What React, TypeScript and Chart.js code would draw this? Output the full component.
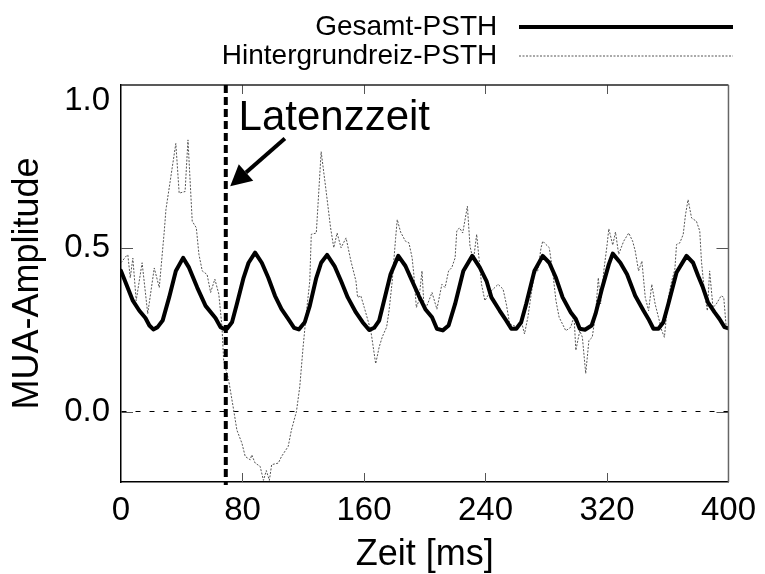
import React, { useEffect, useRef } from 'react';
import { Chart, registerables } from 'chart.js';

Chart.register(...registerables);

const FONT = '"Liberation Sans", Arial, Helvetica, sans-serif';

// Gesamt-PSTH (thick line): time [ms] / MUA amplitude
const GESAMT_TIME = [
  0, 3.5, 7.8, 12.1, 16.1, 18.7, 21.3, 24.1, 27.4, 31.7,
  36.1, 40.9, 44.8, 50.2, 55.7, 62.2, 65.5, 67.6, 69.8, 73.1,
  76.3, 80.7, 84, 88.3, 92.7, 97, 101.4, 105.7, 110.1, 114,
  117.1, 121, 124.3, 128.6, 131.8, 135.7, 140.6, 144.9, 149.3, 154.7,
  159.1, 163.4, 166.7, 170, 173.2, 177.5, 182.6, 187.3, 191.7, 196.1,
  200.4, 204.8, 208, 211.9, 215.7, 220, 225.4, 231.3, 236.3, 240.7,
  243.9, 249.4, 253.7, 257, 260.3, 263.5, 266.8, 272.2, 277.7, 282,
  286.4, 290.8, 296.2, 299.5, 302.1, 305.5, 309.9, 312.5, 316.9, 321.2,
  323.8, 328.8, 333.2, 338.6, 344.1, 347.3, 350.6, 353.9, 357.1, 360.4,
  365.8, 372.4, 376.7, 380, 383.2, 386.5, 390.9, 394.1, 397.4, 400,
];
const GESAMT_AMP = [
  0.431, 0.39, 0.34, 0.309, 0.287, 0.264, 0.252, 0.259, 0.279, 0.35,
  0.431, 0.471, 0.441, 0.38, 0.324, 0.287, 0.259, 0.254, 0.254, 0.274,
  0.33, 0.41, 0.456, 0.487, 0.456, 0.41, 0.355, 0.314, 0.284, 0.257,
  0.252, 0.274, 0.324, 0.41, 0.456, 0.48, 0.446, 0.4, 0.35, 0.304,
  0.274, 0.25, 0.257, 0.279, 0.34, 0.421, 0.477, 0.446, 0.4, 0.355,
  0.314, 0.289, 0.254, 0.249, 0.264, 0.33, 0.431, 0.477, 0.441, 0.4,
  0.35, 0.309, 0.279, 0.254, 0.254, 0.274, 0.33, 0.431, 0.477, 0.456,
  0.41, 0.35, 0.304, 0.284, 0.254, 0.251, 0.264, 0.3, 0.38, 0.451,
  0.484, 0.456, 0.421, 0.355, 0.309, 0.284, 0.254, 0.254, 0.274, 0.33,
  0.426, 0.477, 0.456, 0.416, 0.38, 0.335, 0.304, 0.284, 0.259, 0.255,
];

// Hintergrundreiz-PSTH (thin dotted line)
const HG_TIME = [
  0, 3.5, 4.5, 6.1, 7.8, 10, 13.9, 17.6, 21.9, 25.2,
  28.5, 29.6, 36.1, 38.3, 42.2, 44.1, 46.9, 49.6, 51.3, 53.5,
  56.7, 59, 61.8, 64.4, 66.5, 67.6, 70.9, 74.2, 76.3, 79.6,
  81.8, 85.1, 86.1, 88.3, 91.6, 93.8, 95.7, 97.7, 99.2, 103.6,
  105.7, 110.1, 112.2, 115.5, 117.7, 119.9, 122, 124.3, 125.3, 128.6,
  131.8, 135.1, 138, 140.1, 142.3, 144.9, 148.2, 151.4, 154.7, 155.8,
  157.9, 160.2, 164.5, 167.7, 170, 172.1, 174.9, 176.5, 178.6, 180.8,
  181.9, 184.1, 187.3, 189.6, 191.7, 192.8, 194.5, 196.1, 198.2, 199.4,
  201.5, 204.8, 208, 211.3, 213.4, 215.7, 217.8, 220, 221.1, 222.9,
  225, 228.1, 229.8, 232, 234.2, 237.4, 239.6, 242.8, 245, 248.3,
  251.6, 253.7, 255.9, 258.1, 261.4, 263.5, 265.7, 267.9, 270.1, 272.2,
  274.4, 276.6, 277.7, 279.8, 282, 284.2, 286.4, 288.5, 292.9, 296.2,
  298.3, 299.5, 302.1, 303.8, 306, 308.1, 310.3, 312.5, 314.3, 315.8,
  317.9, 320.1, 321.2, 323.8, 325.6, 327.7, 331, 334.3, 336.9, 338.6,
  340.8, 343, 345.2, 347.4, 349.5, 351.7, 353.9, 356.1, 357.8, 360.4,
  362.6, 364.7, 365.8, 368, 370.2, 371.7, 373.4, 375.7, 378.9, 381.1,
  382.2, 384.3, 386.1, 387.6, 389.8, 392, 395.2, 396.9, 398.5, 400,
];
const HG_AMP = [
  0.456, 0.477, 0.48, 0.41, 0.47, 0.34, 0.456, 0.3, 0.44, 0.38,
  0.553, 0.619, 0.821, 0.669, 0.674, 0.832, 0.583, 0.563, 0.482, 0.431,
  0.42, 0.365, 0.406, 0.36, 0.259, 0.157, 0.096, 0.005, -0.056, -0.096,
  -0.137, -0.147, -0.132, -0.157, -0.167, -0.21, -0.18, -0.21, -0.162, -0.157,
  -0.137, -0.106, -0.056, 0.0, 0.076, 0.198, 0.3, 0.4, 0.543, 0.547,
  0.796, 0.674, 0.563, 0.502, 0.547, 0.502, 0.532, 0.461, 0.4, 0.35,
  0.355, 0.319, 0.248, 0.147, 0.198, 0.23, 0.259, 0.309, 0.4, 0.53,
  0.588, 0.55, 0.522, 0.517, 0.471, 0.421, 0.319, 0.34, 0.431, 0.33,
  0.325, 0.365, 0.314, 0.39, 0.38, 0.431, 0.441, 0.471, 0.553, 0.563,
  0.547, 0.629, 0.507, 0.461, 0.543, 0.39, 0.34, 0.365, 0.375, 0.39,
  0.375, 0.33, 0.269, 0.264, 0.259, 0.279, 0.238, 0.289, 0.36, 0.421,
  0.431, 0.502, 0.522, 0.512, 0.502, 0.431, 0.34, 0.289, 0.248, 0.259,
  0.294, 0.188, 0.248, 0.228, 0.117, 0.218, 0.228, 0.3, 0.41, 0.33,
  0.431, 0.512, 0.56, 0.51, 0.55, 0.482, 0.522, 0.547, 0.522, 0.492,
  0.431, 0.461, 0.35, 0.309, 0.39, 0.33, 0.289, 0.248, 0.228, 0.35,
  0.4, 0.436, 0.512, 0.517, 0.543, 0.603, 0.649, 0.593, 0.583, 0.553,
  0.461, 0.36, 0.309, 0.431, 0.319, 0.33, 0.355, 0.35, 0.259, 0.25,
];

const SERIES_LABELS = ['Gesamt-PSTH', 'Hintergrundreiz-PSTH'];
const X_TICKS = [0, 80, 160, 240, 320, 400];
const Y_TICKS = [0, 0.5, 1.0];
const X_RANGE = [0, 400];
const Y_RANGE = [-0.215, 1.0];

// Annotation (data coordinates)
const LATENCY_MS = 69;
const LATENCY_LABEL = 'Latenzzeit';
const LATENCY_LABEL_AT = [77.4, 0.862];
const ARROW_TAIL = [107.9, 0.836];
const ARROW_TIP = [71.9, 0.69];

const annotationPlugin = {
  id: 'frameAndLatency',
  afterDatasetsDraw(chart: any) {
    const { ctx, chartArea: a, scales } = chart;
    const xs = scales.x;
    const ys = scales.y;
    ctx.save();

    // inward tick marks on all four sides
    ctx.strokeStyle = '#555';
    ctx.lineWidth = 1;
    ctx.beginPath();
    X_TICKS.forEach((t) => {
      if (t === X_RANGE[0] || t === X_RANGE[1]) return;
      const px = Math.round(xs.getPixelForValue(t)) + 0.5;
      ctx.moveTo(px, a.bottom);
      ctx.lineTo(px, a.bottom - 9);
      ctx.moveTo(px, a.top);
      ctx.lineTo(px, a.top + 9);
    });
    Y_TICKS.forEach((t) => {
      if (t >= Y_RANGE[1]) return;
      const py = Math.round(ys.getPixelForValue(t)) + 0.5;
      ctx.moveTo(a.left, py);
      ctx.lineTo(a.left + 12, py);
      ctx.moveTo(a.right, py);
      ctx.lineTo(a.right - 12, py);
    });
    ctx.stroke();

    // top and right frame
    ctx.lineWidth = 1.5;
    ctx.strokeStyle = '#222';
    ctx.beginPath();
    ctx.moveTo(a.left, a.top);
    ctx.lineTo(a.right, a.top);
    ctx.stroke();
    ctx.strokeStyle = '#666';
    ctx.beginPath();
    ctx.moveTo(a.right, a.top);
    ctx.lineTo(a.right, a.bottom);
    ctx.stroke();

    // latency line
    const lx = xs.getPixelForValue(LATENCY_MS);
    ctx.strokeStyle = '#000';
    ctx.lineWidth = 4;
    ctx.setLineDash([8, 4]);
    ctx.beginPath();
    ctx.moveTo(lx, a.top);
    ctx.lineTo(lx, a.bottom + 3);
    ctx.stroke();
    ctx.setLineDash([]);

    // arrow
    const x0 = xs.getPixelForValue(ARROW_TAIL[0]);
    const y0 = ys.getPixelForValue(ARROW_TAIL[1]);
    const x1 = xs.getPixelForValue(ARROW_TIP[0]);
    const y1 = ys.getPixelForValue(ARROW_TIP[1]);
    const ang = Math.atan2(y1 - y0, x1 - x0);
    const headLen = 21;
    const headHalf = 11;
    const bx = x1 - headLen * Math.cos(ang);
    const by = y1 - headLen * Math.sin(ang);
    ctx.lineWidth = 4;
    ctx.beginPath();
    ctx.moveTo(x0, y0);
    ctx.lineTo(bx, by);
    ctx.stroke();
    ctx.fillStyle = '#000';
    ctx.beginPath();
    ctx.moveTo(x1, y1);
    ctx.lineTo(bx - headHalf * Math.sin(ang), by + headHalf * Math.cos(ang));
    ctx.lineTo(bx + headHalf * Math.sin(ang), by - headHalf * Math.cos(ang));
    ctx.closePath();
    ctx.fill();

    // label
    ctx.font = `42px ${FONT}`;
    ctx.textAlign = 'left';
    ctx.textBaseline = 'alphabetic';
    ctx.fillText(
      LATENCY_LABEL,
      xs.getPixelForValue(LATENCY_LABEL_AT[0]),
      ys.getPixelForValue(LATENCY_LABEL_AT[1])
    );
    ctx.restore();
  },
};

export default function App() {
  const canvasRef = useRef<HTMLCanvasElement>(null);

  useEffect(() => {
    document.body.style.margin = '0';
    const canvas = canvasRef.current;
    if (!canvas) return;

    const chart = new Chart(canvas, {
      type: 'line',
      data: {
        datasets: [
          {
            label: SERIES_LABELS[0],
            data: GESAMT_TIME.map((t, i) => ({ x: t, y: GESAMT_AMP[i] })),
            borderColor: '#000',
            borderWidth: 4,
            borderJoinStyle: 'round',
            borderCapStyle: 'round',
            pointRadius: 0,
            tension: 0,
            fill: false,
          },
          {
            label: SERIES_LABELS[1],
            data: HG_TIME.map((t, i) => ({ x: t, y: HG_AMP[i] })),
            borderColor: '#555',
            borderWidth: 1,
            borderDash: [2, 1.5],
            pointRadius: 0,
            tension: 0,
            fill: false,
          },
        ],
      },
      options: {
        responsive: false,
        animation: false,
        devicePixelRatio: 1,
        layout: { padding: { top: 12, right: 31, left: 0, bottom: 0 } },
        plugins: {
          tooltip: { enabled: false },
          title: { display: false },
          subtitle: {
            display: true,
            text: '',
            position: 'top',
            weight: 500,
            font: { size: 4.17 },
            padding: 0,
          },
          legend: {
            display: true,
            position: 'top',
            align: 'start',
            rtl: true,
            textDirection: 'ltr',
            labels: {
              font: { size: 28, family: FONT },
              color: '#000',
              padding: 1,
              usePointStyle: true,
              pointStyleWidth: 214,
              generateLabels: (ch: any) =>
                ch.data.datasets.map((ds: any, i: number) => ({
                  text: ds.label + ' ',
                  fillStyle: ds.borderColor,
                  strokeStyle: ds.borderColor,
                  lineWidth: ds.borderWidth,
                  lineDash: ds.borderDash || [],
                  pointStyle: 'line',
                  fontColor: '#000',
                  hidden: false,
                  datasetIndex: i,
                })),
            },
          },
        },
        scales: {
          x: {
            type: 'linear',
            min: X_RANGE[0],
            max: X_RANGE[1],
            afterBuildTicks: (s: any) => {
              s.ticks = X_TICKS.map((v) => ({ value: v }));
            },
            afterFit: (s: any) => {
              s.height = 92;
            },
            grid: { display: false, drawTicks: false },
            border: { display: true, color: '#000', width: 1.5 },
            ticks: {
              color: '#000',
              font: { size: 33, family: FONT },
              padding: 9,
              maxRotation: 0,
              autoSkip: false,
              callback: (v: any) => String(v),
            },
            title: {
              display: true,
              text: 'Zeit [ms]',
              color: '#000',
              font: { size: 36, family: FONT, lineHeight: 1 },
              padding: { top: 0, bottom: 1 },
            },
          },
          y: {
            type: 'linear',
            min: Y_RANGE[0],
            max: Y_RANGE[1],
            afterBuildTicks: (s: any) => {
              s.ticks = Y_TICKS.map((v) => ({ value: v }));
            },
            afterFit: (s: any) => {
              s.width = 121;
            },
            grid: {
              display: true,
              drawTicks: false,
              lineWidth: 1,
              color: (c: any) =>
                c.tick && c.tick.value === 0 ? '#000' : 'rgba(0,0,0,0)',
            },
            border: { display: true, color: '#000', width: 1.5, dash: [5, 9] },
            ticks: {
              color: '#000',
              padding: 11,
              autoSkip: false,
              font: (c: any) => ({
                size: 33,
                family: FONT,
                lineHeight: c.tick && c.tick.value === 1 ? 0.95 : 1.2,
              }),
              callback: (v: any) =>
                Number(v) === 1 ? ['', Number(v).toFixed(1)] : Number(v).toFixed(1),
            },
            title: {
              display: true,
              text: 'MUA-Amplitude',
              color: '#000',
              font: { size: 36, family: FONT, lineHeight: 1 },
              padding: { top: 10, bottom: 0 },
            },
          },
        },
      },
      plugins: [annotationPlugin],
    } as any);

    return () => chart.destroy();
  }, []);

  return (
    <div style={{ width: 765, height: 574 }}>
      <canvas
        ref={canvasRef}
        width={765}
        height={574}
        style={{ display: 'block', width: 765, height: 574 }}
      />
    </div>
  );
}
